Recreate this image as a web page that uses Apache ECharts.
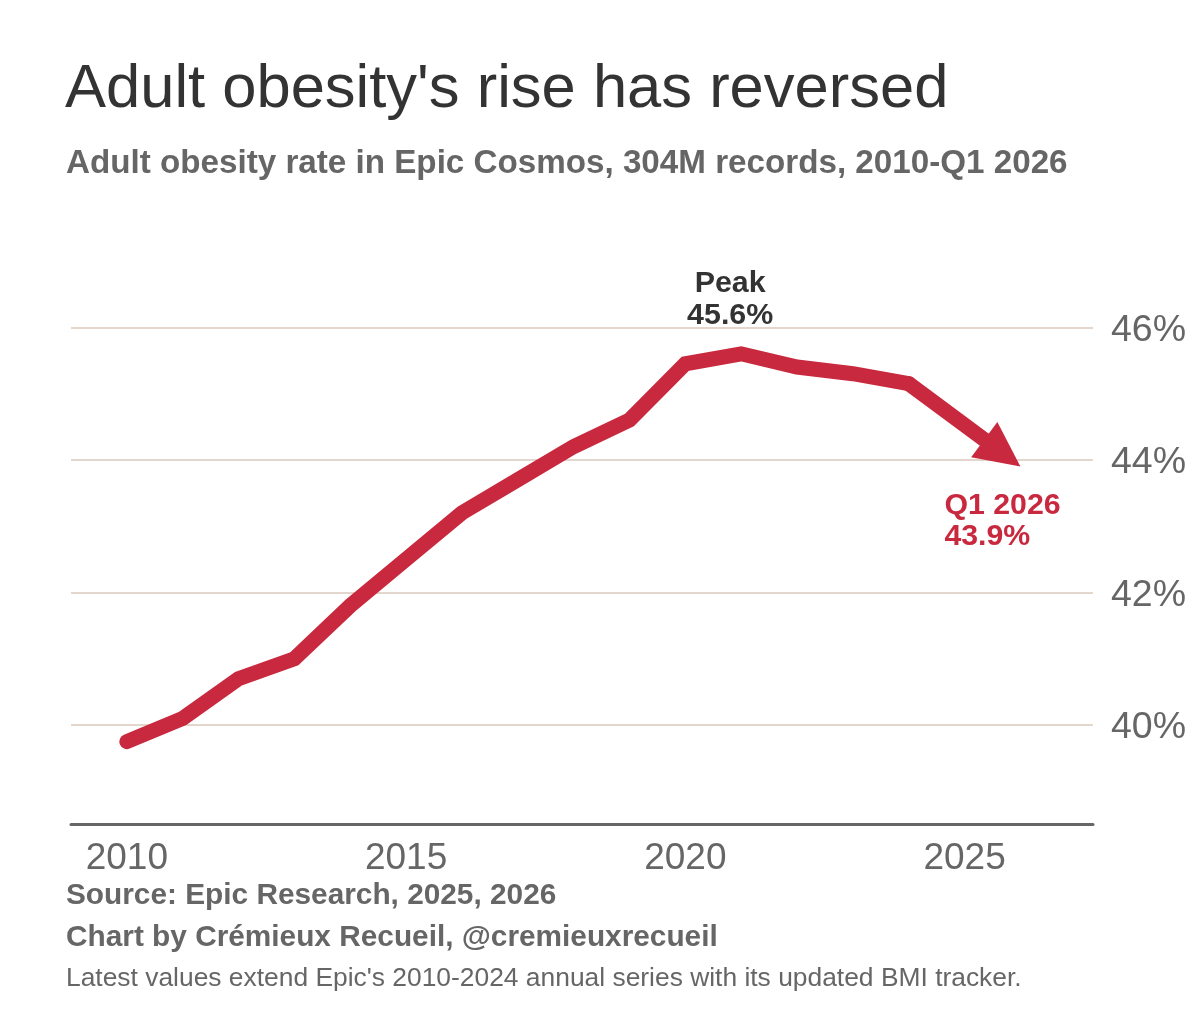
<!DOCTYPE html>
<html>
<head>
<meta charset="utf-8">
<script src="https://cdn.jsdelivr.net/npm/echarts@6/dist/echarts.min.js"></script>
<style>
html,body{margin:0;padding:0;background:#ffffff;}
#chart{width:1200px;height:1024px;}
</style>
</head>
<body>
<div id="chart"></div>
<script>
// ---- data ----
const years = [2010, 2011, 2012, 2013, 2014, 2015, 2016, 2017, 2018, 2019, 2020, 2021, 2022, 2023, 2024, 2026];
const rates = [39.75, 40.1, 40.7, 41.0, 41.8, 42.5, 43.2, 43.7, 44.2, 44.6, 45.45, 45.6, 45.4, 45.3, 45.15, 43.9];
const xTickValues = [2010, 2015, 2020, 2025];
const yTickValues = [40, 42, 44, 46];
const peakLines = ['Peak', '45.6%'];
const endLines = ['Q1 2026', '43.9%'];
const titleText = "Adult obesity's rise has reversed";
const subtitleText = 'Adult obesity rate in Epic Cosmos, 304M records, 2010-Q1 2026';
const sourceText = 'Source: Epic Research, 2025, 2026';
const creditText = 'Chart by Crémieux Recueil, @cremieuxrecueil';
const noteText = "Latest values extend Epic's 2010-2024 annual series with its updated BMI tracker.";

// ---- styling ----
const RED = '#c9293f';
const GRAY = '#666666';
const DARK = '#333333';
const FONT = '"Liberation Sans", Arial, Helvetica, sans-serif';

const points = years.map((y, i) => [y, rates[i]]);
const annualPts = points.slice(0, points.length - 1);
const lastPt = points[points.length - 1];
const prevPt = points[points.length - 2];
let peakIdx = 0;
rates.forEach((v, i) => { if (v > rates[peakIdx]) peakIdx = i; });
const peakPt = points[peakIdx];

const chart = echarts.init(document.getElementById('chart'), null, { renderer: 'canvas' });

const option = {
  backgroundColor: '#ffffff',
  animation: false,
  title: [
    {
      text: titleText,
      left: 65, top: 59, padding: 0,
      textStyle: { fontFamily: FONT, fontSize: 61.5, fontWeight: 'normal', color: DARK }
    },
    {
      text: subtitleText,
      left: 66, top: 147, padding: 0,
      textStyle: { fontFamily: FONT, fontSize: 33.2, fontWeight: 'bold', color: GRAY }
    }
  ],
  grid: { left: 71, right: 107, top: 261, bottom: 199.5, containLabel: false },
  xAxis: {
    type: 'value',
    min: 2009, max: 2027.3,
    axisLine: { show: true, lineStyle: { color: GRAY, width: 3 } },
    axisTick: { show: false, customValues: xTickValues },
    splitLine: { show: false },
    axisLabel: {
      customValues: xTickValues,
      margin: 16,
      fontFamily: FONT, fontSize: 37, color: GRAY,
      formatter: v => String(v)
    }
  },
  yAxis: {
    type: 'value',
    position: 'right',
    min: 38.5, max: 47,
    axisLine: { show: false },
    axisTick: { show: false, customValues: yTickValues },
    splitLine: { show: true, lineStyle: { color: '#e3d6cd', width: 2 } },
    axisLabel: {
      customValues: yTickValues,
      margin: 18,
      fontFamily: FONT, fontSize: 37.5, color: GRAY,
      lineHeight: 44, verticalAlign: 'middle',
      formatter: v => '{l|' + v + '%}',
      rich: { l: { fontFamily: FONT, fontSize: 37.5, color: GRAY, padding: [6, 0, 0, 0] } }
    }
  },
  series: [
    {
      type: 'line',
      data: annualPts,
      showSymbol: false,
      silent: true,
      z: 5,
      lineStyle: { color: RED, width: 15, cap: 'round', join: 'miter' },
      markPoint: {
        silent: true,
        symbol: 'circle',
        symbolSize: 1,
        itemStyle: { color: 'rgba(0,0,0,0)' },
        data: [
          {
            coord: peakPt,
            label: {
              show: true,
              position: 'top',
              distance: 22,
              offset: [-11, 0],
              formatter: peakLines.join('\n'),
              fontFamily: FONT, fontSize: 30.4, fontWeight: 'bold', color: DARK,
              lineHeight: 31.5, align: 'center'
            }
          },
          {
            coord: lastPt,
            label: {
              show: true,
              position: 'bottom',
              distance: 23,
              offset: [-76, 0],
              formatter: endLines.join('\n'),
              fontFamily: FONT, fontSize: 30.3, fontWeight: 'bold', color: RED,
              lineHeight: 31, align: 'left'
            }
          }
        ]
      }
    }
  ],
  graphic: [
    { id: 'src', type: 'text', left: 66, top: 896 - 15,
      style: { text: sourceText, font: 'bold 29.8px ' + FONT, fill: GRAY } },
    { id: 'cred', type: 'text', left: 66, top: 938 - 15,
      style: { text: creditText, font: 'bold 29.8px ' + FONT, fill: GRAY } },
    { id: 'note', type: 'text', left: 66, top: 980 - 14,
      style: { text: noteText, font: '26.4px ' + FONT, fill: GRAY } }
  ]
};
chart.setOption(option);

// final (Q1 2026) segment with arrowhead, positioned through the chart's own scales
const p0 = chart.convertToPixel({ gridIndex: 0 }, prevPt);
const p1 = chart.convertToPixel({ gridIndex: 0 }, lastPt);
const dx = p1[0] - p0[0], dy = p1[1] - p0[1];
const len = Math.sqrt(dx * dx + dy * dy);
const ux = dx / len, uy = dy / len;
const nx = -uy, ny = ux;
const headLen = 45, headHalf = 22;
const bx = p1[0] - headLen * ux, by = p1[1] - headLen * uy;
chart.setOption({
  graphic: [
    { id: 'tail', type: 'polyline', z: 6, silent: true,
      shape: { points: [[p0[0], p0[1]], [bx + 4 * ux, by + 4 * uy]] },
      style: { stroke: RED, lineWidth: 15, lineCap: 'round', fill: null } },
    { id: 'head', type: 'polygon', z: 6, silent: true,
      shape: { points: [[p1[0], p1[1]], [bx + headHalf * nx, by + headHalf * ny], [bx - headHalf * nx, by - headHalf * ny]] },
      style: { fill: RED, stroke: null } }
  ]
});
</script>
</body>
</html>
